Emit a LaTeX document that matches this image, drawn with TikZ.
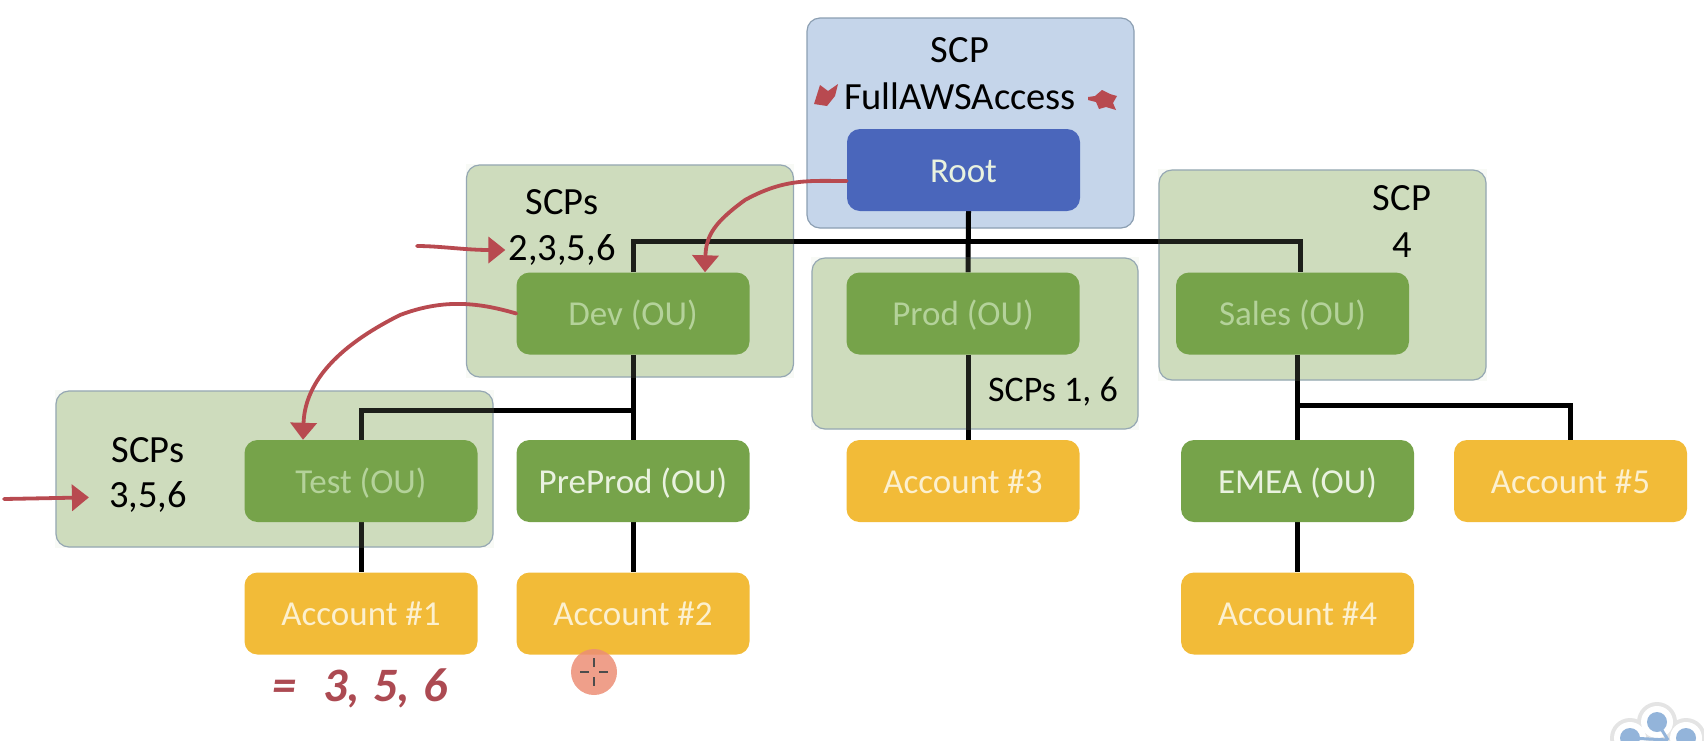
\documentclass[tikz,border=0pt]{standalone}
\usepackage{fontspec}
\setmainfont{Carlito}
\usepackage{tikz}
\usetikzlibrary{arrows.meta}
\usetikzlibrary{positioning}
\definecolor{scpblue}{HTML}{C5D5EA}
\definecolor{scpgreen}{HTML}{CEDCBD}
\definecolor{scpedge}{HTML}{8C9FB2}
\definecolor{rootblue}{HTML}{4A66BB}
\definecolor{ougreen}{HTML}{76A34A}
\definecolor{ouwash}{HTML}{B4D29A}
\definecolor{ouwhite}{HTML}{E9F2DF}
\definecolor{acctyellow}{HTML}{F2BB38}
\definecolor{acctwhite}{HTML}{FCF0CF}
\definecolor{inkred}{HTML}{B84A50}
\definecolor{handred}{HTML}{AC4A52}
\definecolor{cursorpink}{HTML}{EC8E76}
\definecolor{logoblue}{HTML}{93B4DA}
\definecolor{logogrey}{HTML}{E4E4E4}
\pgfdeclarelayer{boxes}
\pgfdeclarelayer{links}
\pgfdeclarelayer{veil}
\pgfsetlayers{boxes,links,veil,main}
\tikzset{tile/.style = {rounded corners=13, inner sep=0, minimum width=233, minimum height=82,
                        text height=24, text depth=0, font=\fontsize{35}{40}\selectfont}}
\tikzset{rootbox/.style = {tile, fill=rootblue, text=ouwhite}}
\tikzset{oubox/.style = {tile, fill=ougreen, text=ouwash}}
\tikzset{oulit/.style = {tile, fill=ougreen, text=ouwhite}}
\tikzset{acctbox/.style = {tile, fill=acctyellow, text=acctwhite}}
\tikzset{scpbox/.style = {draw=scpedge, line width=1.2, rounded corners=13, inner sep=0}}
\tikzset{scptext/.style = {text=black, inner sep=0, font=\fontsize{38.5}{44}\selectfont}}
\tikzset{link/.style = {draw=black, line width=5}}
\tikzset{redink/.style = {draw=inkred, line width=3.8, line cap=round}}
\tikzset{redarrow/.style = {redink, -{Triangle[width=26, length=17]}}}

\begin{document}
\begin{tikzpicture}[x=1pt, y=-1pt]
    \useasboundingbox (0,0) rectangle (1704,740);

    \begin{pgfonlayer}{boxes}
    \node [scpbox, fill=scpblue, minimum width=327, minimum height=210] (rootscp) at (970.5,123) {};
    \node [scpbox, fill=scpgreen, minimum width=327, minimum height=212] (devscp) at (630,271) {};
    \node [scpbox, fill=scpgreen, minimum width=326, minimum height=171] (prodscp) at (975,343.5) {};
    \node [scpbox, fill=scpgreen, minimum width=327, minimum height=210] (salesscp) at (1322.5,275) {};
    \node [scpbox, fill=scpgreen, minimum width=437, minimum height=156] (testscp) at (274.5,469) {};
    \end{pgfonlayer}

    \node [rootbox] (root) at (963.5,170) {Root};
    \node [oubox] (dev) at (633,313.5) {Dev (OU)};
    \node [oubox] (prod) at (963,313.5) {Prod (OU)};
    \node [oubox] (sales) at (1292.5,313.5) {Sales (OU)};
    \node [oubox] (test) at (361,481) {Test (OU)};
    \node [oulit] (preprod) at (633,481) {PreProd (OU)};
    \node [acctbox] (acct3) at (963,481) {Account \#3};
    \node [oulit] (emea) at (1297.5,481) {EMEA (OU)};
    \node [acctbox] (acct5) at (1570.5,481) {Account \#5};
    \node [acctbox] (acct1) at (361,613.5) {Account \#1};
    \node [acctbox] (acct2) at (633,613.5) {Account \#2};
    \node [acctbox] (acct4) at (1297.5,613.5) {Account \#4};

    \node [scptext] (t1) at (960,50) {SCP};
    \node [scptext] (t2) at (960,96) {FullAWSAccess};
    \node [scptext] (t3) at (562,202) {SCPs};
    \node [scptext] (t4) at (562,250) {2,3,5,6};
    \node [scptext] (t5) at (1402,198) {SCP};
    \node [scptext] (t6) at (1402,245) {4};
    \node [scptext, font=\fontsize{36}{42}\selectfont] (t7) at (1053,392) {SCPs 1, 6};
    \node [scptext] (t8) at (148,450) {SCPs};
    \node [scptext] (t9) at (148,497) {3,5,6};

    \coordinate (bus) at (968,241);
    \coordinate (testbus) at (632,410);
    \coordinate (salesbus) at (1298,405);

    \begin{pgfonlayer}{links}
    \draw [link] ([xshift=5]root.south) -- ([xshift=5]prod.north);
    \draw [link] (dev.north) |- (bus);
    \draw [link] (bus) -| ([xshift=8]sales.north);
    \draw [link] (dev.south) -- (preprod.south);
    \draw [link] (testbus) -| (test.north);
    \draw [link] (test.south) -- (acct1.north);
    \draw [link] (preprod.south) -- (acct2.north);
    \draw [link] ([xshift=5]prod.south) -- ([xshift=5]acct3.north);
    \draw [link] ([xshift=5]sales.south) -- (emea.north);
    \draw [link] (salesbus) -| (acct5.north);
    \draw [link] (emea.south) -- (acct4.north);
    \end{pgfonlayer}

    % lines look darkened green inside the boxes
    \begin{pgfonlayer}{veil}
    \foreach \b in {devscp,prodscp,salesscp,testscp}
      \fill [scpgreen, fill opacity=.14] (\b.south west) rectangle (\b.north east);
    \end{pgfonlayer}

    % pen strokes
    \coordinate (devpen) at (417,246);
    \coordinate (testpen) at (4,499);
    \draw [redarrow] ([yshift=-11]root.west) .. controls (810,181) and (785,178) .. (745,200)
      .. controls (715,222) and (706,235) .. ([xshift=72]dev.north);
    \draw [redarrow] (dev.west) .. controls (480,303) and (445,298) .. (400,315)
      .. controls (350,340) and (305,375) .. ([xshift=-58]test.north);
    \draw [redarrow, shorten >=3] (devpen) .. controls (440,246) and (465,250) .. (t4.west);
    \draw [redarrow, shorten >=20] (testpen) -- (t9.west);
    \fill [inkred] (814,104) -- (820,85) -- (828,91) -- (838,84) -- (835,96) -- (827,106) -- cycle;
    \fill [inkred] (1088,97) -- (1095,96) -- (1102,90) -- (1110,94) -- (1117,96) -- (1113,103)
      -- (1116,110) -- (1106,107) -- (1099,109) -- (1096,102) -- (1088,100) -- cycle;
    \node [text=handred, inner sep=0, font=\fontsize{48}{52}\selectfont\itshape\bfseries] (hand)
      at (360,688) {=\;\;3,\;5,\;6};

    % pointer
    \fill [cursorpink, fill opacity=.85] (594,672) circle (23);
    \foreach \a in {0,90,180,270}
      \draw [black!70, line width=1.2] (594,672) ++(\a:5) -- ++(\a:9);

    % logo in the corner
    \foreach \p in {(1657,722),(1630,738),(1686,738)} {
      \fill [logogrey] \p circle (20);
    }
    \foreach \p in {(1657,722),(1630,738),(1686,738)} {
      \fill [white] \p circle (16);
    }
    \foreach \p in {(1657,722),(1630,738),(1686,738)} {
      \fill [logoblue] \p circle (10);
    }
    \draw [logoblue, line width=3] (1657,722) -- (1668,740);
    \draw [logoblue, line width=3] (1630,738) -- (1668,740);
\end{tikzpicture}
\end{document}
